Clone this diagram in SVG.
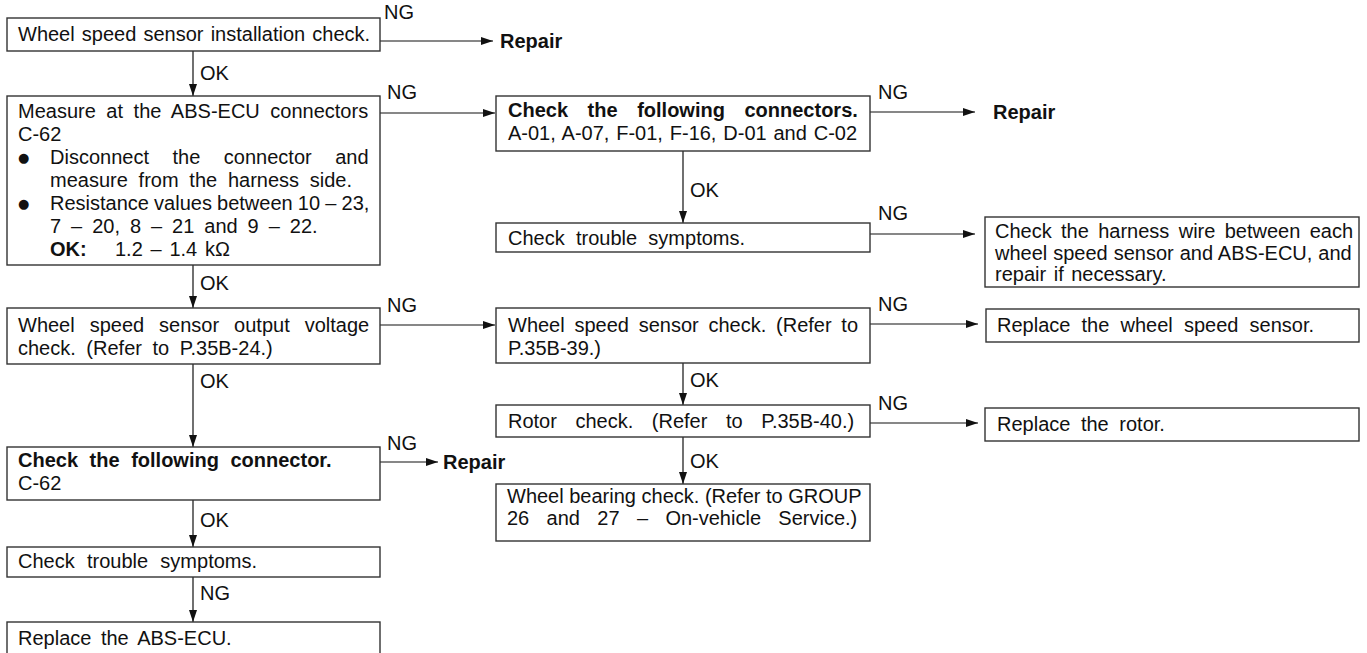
<svg xmlns="http://www.w3.org/2000/svg" width="1367" height="653" viewBox="0 0 1367 653">
<style>
.box{fill:#fff;stroke:#333;stroke-width:1.4}
text{font-family:"Liberation Sans",Arial,sans-serif;font-size:20px;fill:#111}
.b{font-weight:bold}
.bul{font-family:"DejaVu Sans",sans-serif;font-size:13px}
.ln{stroke:#111;stroke-width:1.2;fill:none}
</style>
<defs>
<marker id="ah" viewBox="0 0 12 8" refX="12" refY="4" markerWidth="12" markerHeight="8" markerUnits="userSpaceOnUse" orient="auto">
<path d="M0,0 L12,4 L0,8 Z" fill="#111"/>
</marker>
</defs>
<rect width="1367" height="653" fill="#fff"/>

<g id="connectors">
<path class="ln" d="M380,41 H493" marker-end="url(#ah)"/>
<path class="ln" d="M193,51 V96" marker-end="url(#ah)"/>
<path class="ln" d="M380,113 H495" marker-end="url(#ah)"/>
<path class="ln" d="M870,112 H975" marker-end="url(#ah)"/>
<path class="ln" d="M683,151 V223" marker-end="url(#ah)"/>
<path class="ln" d="M870,234 H975" marker-end="url(#ah)"/>
<path class="ln" d="M193,265 V308" marker-end="url(#ah)"/>
<path class="ln" d="M380,325 H495" marker-end="url(#ah)"/>
<path class="ln" d="M870,324 H978" marker-end="url(#ah)"/>
<path class="ln" d="M683,363 V405" marker-end="url(#ah)"/>
<path class="ln" d="M870,423 H978" marker-end="url(#ah)"/>
<path class="ln" d="M193,364 V447" marker-end="url(#ah)"/>
<path class="ln" d="M380,462 H438" marker-end="url(#ah)"/>
<path class="ln" d="M683,437 V484" marker-end="url(#ah)"/>
<path class="ln" d="M193,500 V547" marker-end="url(#ah)"/>
<path class="ln" d="M193,577 V622" marker-end="url(#ah)"/>
<text x="384" y="19">NG</text>
<text x="200" y="80">OK</text>
<text x="387" y="99">NG</text>
<text x="878" y="99">NG</text>
<text x="690" y="197">OK</text>
<text x="878" y="220">NG</text>
<text x="200" y="290">OK</text>
<text x="387" y="312">NG</text>
<text x="878" y="311">NG</text>
<text x="690" y="387">OK</text>
<text x="878" y="410">NG</text>
<text x="200" y="388">OK</text>
<text x="387" y="450">NG</text>
<text x="690" y="468">OK</text>
<text x="200" y="527">OK</text>
<text x="200" y="600">NG</text>
</g>

<g id="n1"><rect class="box" x="7" y="18" width="373" height="33"/>
<text x="18" y="41" word-spacing="1.6">Wheel speed sensor installation check.</text></g>

<g id="repair1"><text class="b" x="500" y="48">Repair</text></g>

<g id="n2"><rect class="box" x="7" y="96" width="373" height="169"/>
<text x="18" y="118" word-spacing="5">Measure at the ABS-ECU connectors</text>
<text x="18" y="141">C-62</text>
<text class="bul" x="18" y="162">●</text>
<text x="50" y="164" word-spacing="18">Disconnect the connector and</text>
<text x="50" y="187" word-spacing="5.2">measure from the harness side.</text>
<text class="bul" x="18" y="208">●</text>
<text x="50" y="210" word-spacing="-0.4">Resistance values between 10 – 23,</text>
<text x="50" y="233" word-spacing="4.4">7 – 20, 8 – 21 and 9 – 22.</text>
<text class="b" x="50" y="256">OK:</text>
<text x="115" y="256" word-spacing="2.2">1.2 – 1.4 kΩ</text></g>

<g id="n3"><rect class="box" x="496" y="96" width="374" height="55"/>
<text class="b" x="508" y="117" word-spacing="14">Check the following connectors.</text>
<text x="508" y="140" word-spacing="1.3">A-01, A-07, F-01, F-16, D-01 and C-02</text></g>

<g id="repair2"><text class="b" x="993" y="119">Repair</text></g>

<g id="n4"><rect class="box" x="496" y="223" width="374" height="29"/>
<text x="508" y="245" word-spacing="5.7">Check trouble symptoms.</text></g>

<g id="n5"><rect class="box" x="985" y="217" width="374" height="70"/>
<text x="995" y="238" word-spacing="3.8">Check the harness wire between each</text>
<text x="995" y="260" word-spacing="0.4">wheel speed sensor and ABS-ECU, and</text>
<text x="995" y="281" word-spacing="2">repair if necessary.</text></g>

<g id="n6"><rect class="box" x="7" y="308" width="373" height="56"/>
<text x="18" y="332" word-spacing="9.4">Wheel speed sensor output voltage</text>
<text x="18" y="355" word-spacing="5">check. (Refer to P.35B-24.)</text></g>

<g id="n7"><rect class="box" x="496" y="308" width="374" height="55"/>
<text x="508" y="332" word-spacing="4.2">Wheel speed sensor check. (Refer to</text>
<text x="508" y="355">P.35B-39.)</text></g>

<g id="n11"><rect class="box" x="986" y="309" width="373" height="33"/>
<text x="997" y="332" word-spacing="5.6">Replace the wheel speed sensor.</text></g>

<g id="n12"><rect class="box" x="496" y="405" width="374" height="32"/>
<text x="508" y="428" word-spacing="13">Rotor check. (Refer to P.35B-40.)</text></g>

<g id="n13"><rect class="box" x="985" y="408" width="374" height="33"/>
<text x="997" y="431" word-spacing="5">Replace the rotor.</text></g>

<g id="n8"><rect class="box" x="7" y="447" width="373" height="53"/>
<text class="b" x="18" y="467" word-spacing="6">Check the following connector.</text>
<text x="18" y="490">C-62</text></g>

<g id="repair3"><text class="b" x="443" y="469">Repair</text></g>

<g id="n14"><rect class="box" x="496" y="484" width="374" height="57"/>
<text x="507" y="503">Wheel bearing check. (Refer to GROUP</text>
<text x="507" y="525" word-spacing="11.8">26 and 27 – On-vehicle Service.)</text></g>

<g id="n9"><rect class="box" x="7" y="547" width="373" height="30"/>
<text x="18" y="568" word-spacing="6.7">Check trouble symptoms.</text></g>

<g id="n10"><rect class="box" x="7" y="622" width="373" height="40"/>
<text x="18" y="645" word-spacing="4">Replace the ABS-ECU.</text></g>
</svg>
